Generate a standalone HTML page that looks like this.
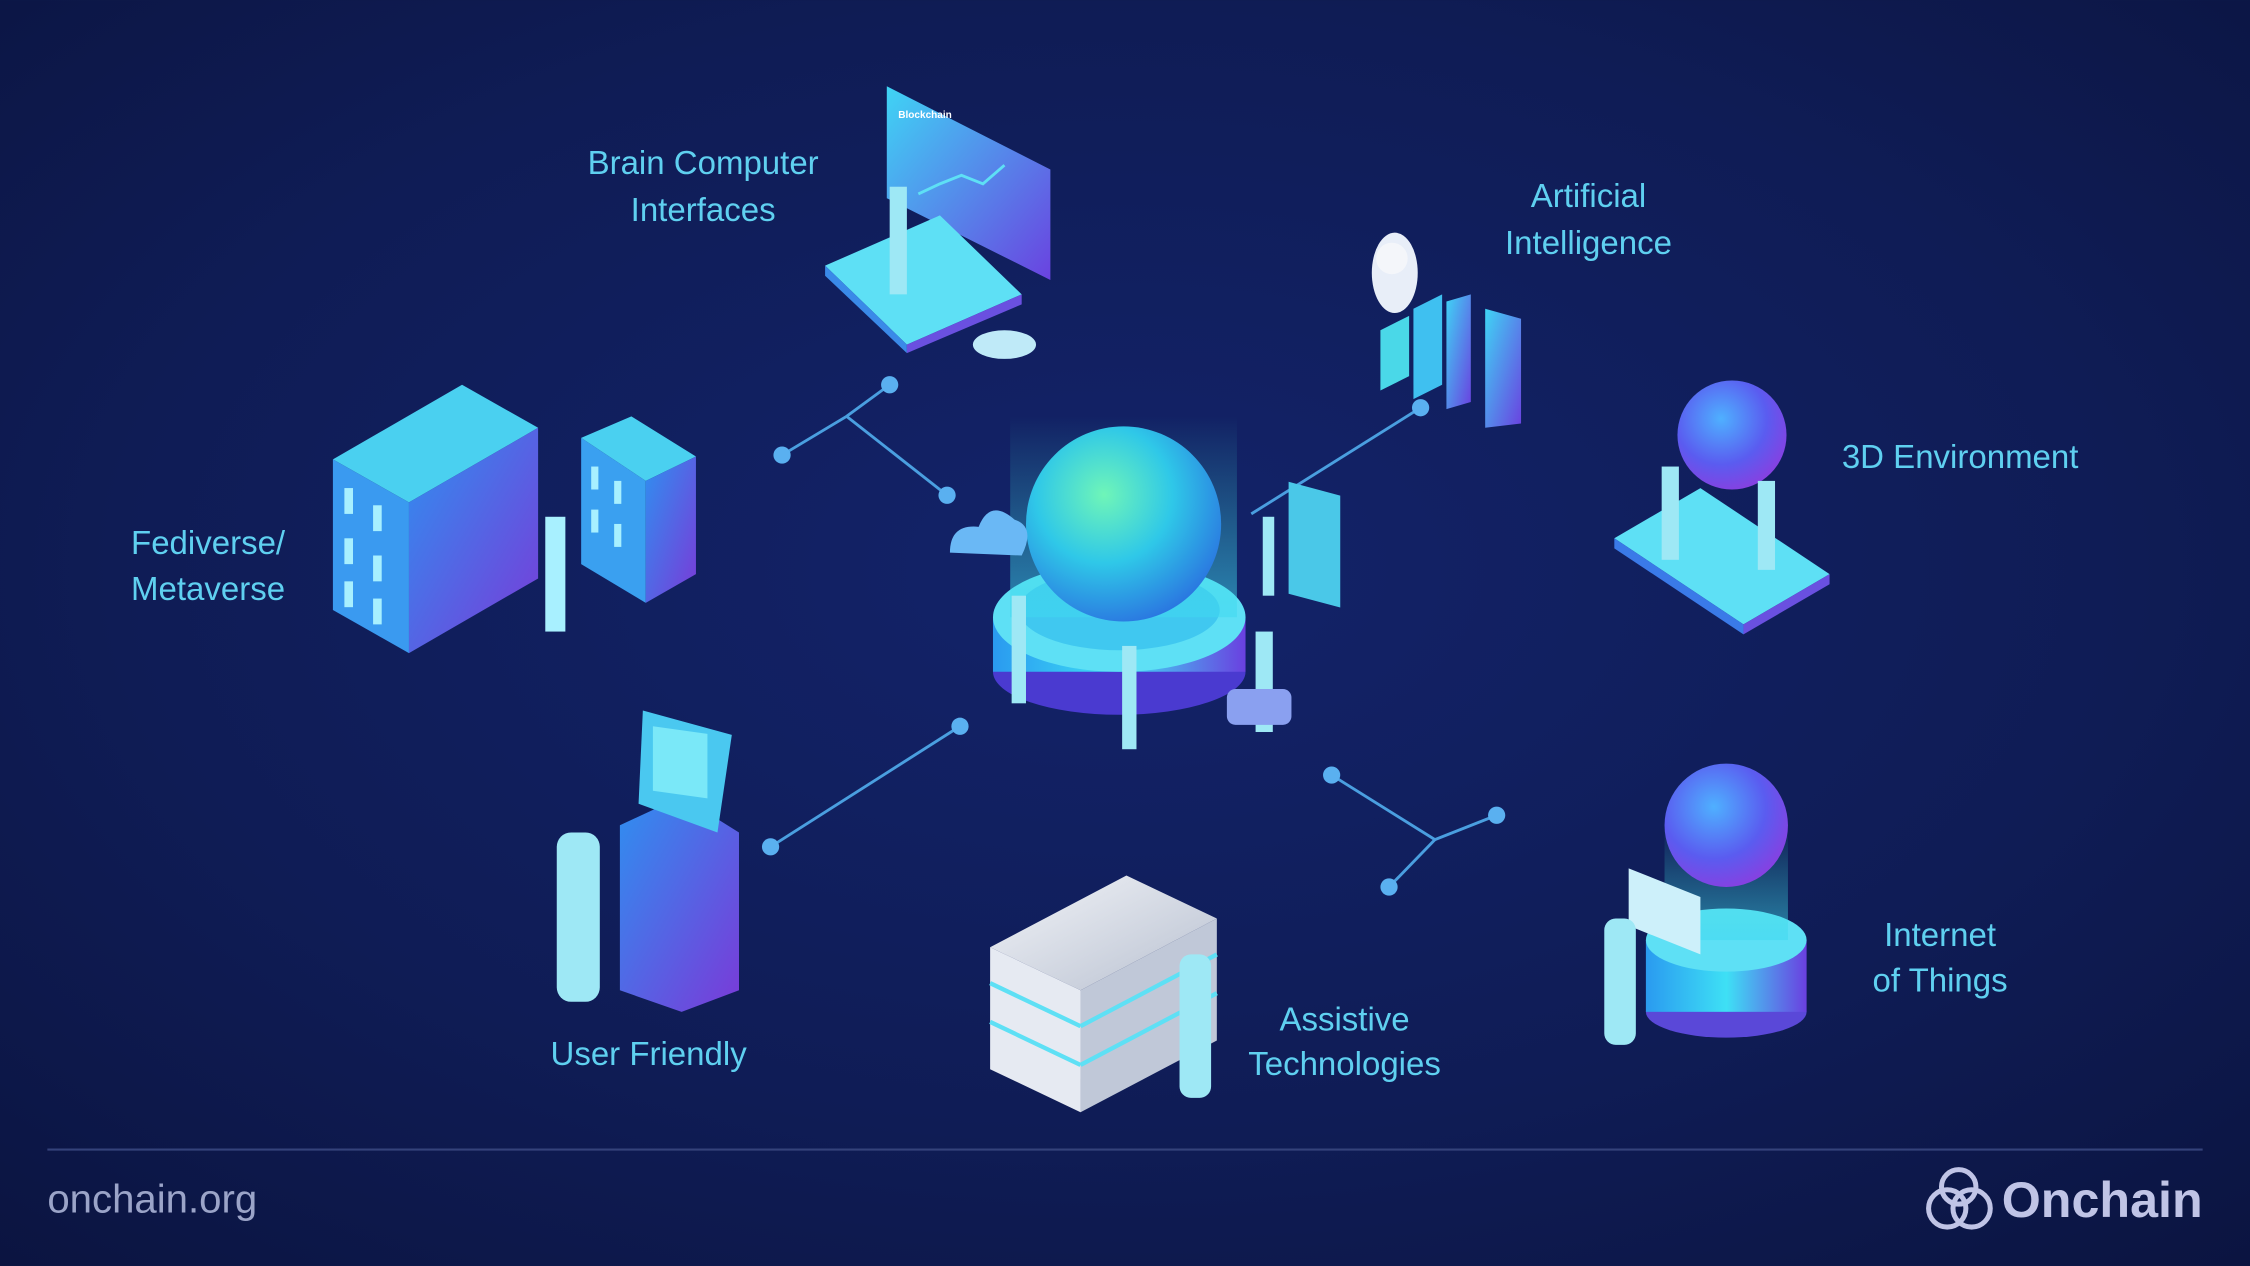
<!DOCTYPE html>
<html><head><meta charset="utf-8"><style>
html,body{margin:0;padding:0;width:2250px;height:1266px;overflow:hidden;background:#0e1a4a}
svg{display:block}
text{font-family:"Liberation Sans",sans-serif}
</style></head><body>
<svg width="2250" height="1266" viewBox="0 0 1568 882" xmlns="http://www.w3.org/2000/svg">
<defs>
<radialGradient id="bg" cx="0.5" cy="0.45" r="0.75">
<stop offset="0" stop-color="#13236a"/><stop offset="0.6" stop-color="#0f1c55"/><stop offset="1" stop-color="#0b1440"/></radialGradient>
<radialGradient id="sph" cx="0.4" cy="0.35" r="0.7">
<stop offset="0" stop-color="#6ff5b8"/><stop offset="0.5" stop-color="#2fc8e8"/><stop offset="1" stop-color="#2a72e0"/></radialGradient>
<radialGradient id="sph2" cx="0.4" cy="0.35" r="0.7">
<stop offset="0" stop-color="#4fb0ff"/><stop offset="0.6" stop-color="#5a5cf0"/><stop offset="1" stop-color="#8a3ee0"/></radialGradient>
<linearGradient id="bld" x1="0" y1="0" x2="1" y2="1">
<stop offset="0" stop-color="#3fd4f5"/><stop offset="1" stop-color="#6a42e0"/></linearGradient>
<linearGradient id="bld2" x1="0" y1="0" x2="1" y2="1">
<stop offset="0" stop-color="#2f8ff0"/><stop offset="1" stop-color="#7a3ad8"/></linearGradient>
<linearGradient id="glow" x1="0" y1="0" x2="0" y2="1">
<stop offset="0" stop-color="#3fe8d0" stop-opacity="0"/><stop offset="1" stop-color="#3fd8f0" stop-opacity="0.55"/></linearGradient>
<linearGradient id="ped" x1="0" y1="0" x2="1" y2="0">
<stop offset="0" stop-color="#2a9af0"/><stop offset="0.5" stop-color="#3ee0f5"/><stop offset="1" stop-color="#6a40e0"/></linearGradient>
<linearGradient id="white" x1="0" y1="0" x2="1" y2="1">
<stop offset="0" stop-color="#f2f4f8"/><stop offset="1" stop-color="#b8c0d0"/></linearGradient>
</defs>
<rect width="1568" height="882" fill="url(#bg)"/>

<g stroke="#4a9fe0" stroke-width="2" fill="none">
<polyline points="620,268 590,290 545,317"/><line x1="590" y1="290" x2="660" y2="345"/>
<line x1="872" y1="358" x2="990" y2="284"/>
<line x1="537" y1="590" x2="669" y2="506"/>
<polyline points="928,540 1000,585 1043,568"/><line x1="1000" y1="585" x2="968" y2="618"/>
</g>
<g fill="#5ab0f0">
<circle cx="620" cy="268" r="6"/><circle cx="545" cy="317" r="6"/><circle cx="660" cy="345" r="6"/>
<circle cx="990" cy="284" r="6"/><circle cx="537" cy="590" r="6"/><circle cx="669" cy="506" r="6"/>
<circle cx="928" cy="540" r="6"/><circle cx="1043" cy="568" r="6"/><circle cx="968" cy="618" r="6"/>
</g>

<ellipse cx="780" cy="468" rx="88" ry="30" fill="#4a3ad0"/>
<rect x="692" y="430" width="176" height="38" fill="url(#ped)"/>
<ellipse cx="780" cy="430" rx="88" ry="38" fill="#5ee0f5"/>
<ellipse cx="780" cy="425" rx="70" ry="28" fill="#40c8f0"/>
<rect x="704" y="290" width="158" height="140" fill="url(#glow)"/>
<circle cx="783" cy="365" r="68" fill="url(#sph)"/>
<path d="M662,385 q0,-20 20,-18 q8,-20 25,-5 q15,5 5,25z" fill="#6ab8f5"/>
<rect x="898" y="335" width="36" height="78" fill="#4ac8e8" transform="skewY(15) translate(0,-240)"/>
<g fill="#9ee8f5"><rect x="880" y="360" width="8" height="55"/><rect x="705" y="415" width="10" height="75"/><rect x="782" y="450" width="10" height="72"/><rect x="875" y="440" width="12" height="70"/></g>
<rect x="855" y="480" width="45" height="25" rx="6" fill="#8aa0f0"/>

<polygon points="618,60 732,118 732,195 618,138" fill="url(#bld)"/>
<polygon points="575,185 655,150 712,205 632,240" fill="#5ee0f5"/>
<polygon points="575,185 632,240 632,246 575,192" fill="#3a8ae8"/>
<polygon points="632,240 712,205 712,212 632,246" fill="#6a50e0"/>
<ellipse cx="700" cy="240" rx="22" ry="10" fill="#bfeaf8"/>
<rect x="620" y="130" width="12" height="75" fill="#9ee8f5"/>
<polyline points="640,135 655,128 670,122 685,128 700,115" stroke="#5ee0f5" stroke-width="2" fill="none"/>
<text x="626" y="82" font-size="7" fill="#fff" font-weight="bold">Blockchain</text>

<g>
<polygon points="962,230 982,220 982,262 962,272" fill="#4ad8e8"/>
<polygon points="985,215 1005,205 1005,268 985,278" fill="#3fc0f0"/>
<polygon points="1008,210 1025,205 1025,280 1008,285" fill="url(#bld)"/>
<polygon points="1035,215 1060,222 1060,295 1035,298" fill="url(#bld)"/>
<ellipse cx="972" cy="190" rx="16" ry="28" fill="#e8eef8"/>
<circle cx="970" cy="180" r="11" fill="#f4f6fa"/>
</g>

<polygon points="1125,375 1185,340 1275,400 1215,435" fill="#5ee0f5"/>
<polygon points="1125,375 1215,435 1215,442 1125,382" fill="#3a7ae8"/>
<polygon points="1215,435 1275,400 1275,407 1215,442" fill="#6a50e0"/>
<circle cx="1207" cy="303" r="38" fill="url(#sph2)"/>
<rect x="1158" y="325" width="12" height="65" fill="#9ee8f5"/>
<rect x="1225" y="335" width="12" height="62" fill="#9ee8f5"/>

<polygon points="232,320 322,268 375,298 285,350" fill="#4ad0f0"/>
<polygon points="232,320 285,350 285,455 232,425" fill="#3a9af0"/>
<polygon points="285,350 375,298 375,403 285,455" fill="url(#bld2)"/>
<polygon points="405,305 440,290 485,318 450,335" fill="#4ad0f0"/>
<polygon points="405,305 450,335 450,420 405,393" fill="#3aa0f0"/>
<polygon points="450,335 485,318 485,400 450,420" fill="url(#bld2)"/>
<g fill="#a8f0ff">
<rect x="240" y="340" width="6" height="18"/><rect x="260" y="352" width="6" height="18"/>
<rect x="240" y="375" width="6" height="18"/><rect x="260" y="387" width="6" height="18"/>
<rect x="240" y="405" width="6" height="18"/><rect x="260" y="417" width="6" height="18"/>
<rect x="412" y="325" width="5" height="16"/><rect x="428" y="335" width="5" height="16"/>
<rect x="412" y="355" width="5" height="16"/><rect x="428" y="365" width="5" height="16"/>
<rect x="380" y="360" width="14" height="80"/>
</g>

<polygon points="432,575 475,555 515,580 515,690 475,705 432,690" fill="url(#bld2)"/>
<polygon points="448,495 510,512 500,580 445,560" fill="#4ac8f0"/>
<rect x="455" y="510" width="38" height="45" fill="#7ae8f8" transform="skewY(8) translate(0,-68)"/>
<rect x="388" y="580" width="30" height="118" rx="10" fill="#9ee8f5"/>

<g>
<polygon points="690,660 785,610 848,640 753,690" fill="url(#white)"/>
<polygon points="690,660 753,690 753,775 690,745" fill="#e6eaf2"/>
<polygon points="753,690 848,640 848,725 753,775" fill="#c0c8d8"/>
<g stroke="#5ee0f5" stroke-width="3"><line x1="690" y1="685" x2="753" y2="715"/><line x1="690" y1="712" x2="753" y2="742"/><line x1="753" y1="715" x2="848" y2="665"/><line x1="753" y1="742" x2="848" y2="692"/></g>
<rect x="822" y="665" width="22" height="100" rx="8" fill="#9ee8f5"/>
</g>

<ellipse cx="1203" cy="705" rx="56" ry="18" fill="#5a48d8"/>
<rect x="1147" y="655" width="112" height="50" fill="url(#ped)"/>
<ellipse cx="1203" cy="655" rx="56" ry="22" fill="#5ee0f5"/>
<rect x="1160" y="575" width="86" height="80" fill="url(#glow)"/>
<circle cx="1203" cy="575" r="43" fill="url(#sph2)"/>
<polygon points="1135,605 1185,625 1185,665 1135,645" fill="#cdf0fa"/>
<rect x="1118" y="640" width="22" height="88" rx="8" fill="#9ee8f5"/>

<g fill="#5fd0f0" font-size="23" text-anchor="middle">
<text x="490" y="121">Brain Computer</text><text x="490" y="154">Interfaces</text>
<text x="1107" y="144">Artificial</text><text x="1107" y="177">Intelligence</text>
<text x="1366" y="326">3D Environment</text>
<text x="145" y="386">Fediverse/</text><text x="145" y="418">Metaverse</text>
<text x="452" y="742">User Friendly</text>
<text x="937" y="718">Assistive</text><text x="937" y="749">Technologies</text>
<text x="1352" y="659">Internet</text><text x="1352" y="691">of Things</text>
</g>

<line x1="33" y1="801" x2="1535" y2="801" stroke="#34427a" stroke-width="1.5"/>
<text x="33" y="845" font-size="28" fill="#9ba4c8">onchain.org</text>
<g fill="none" stroke="#c0c4e6" stroke-width="3.5"><circle cx="1357" cy="842" r="13"/><circle cx="1374" cy="842" r="13"/><circle cx="1365" cy="827" r="12"/></g>
<text x="1535" y="848" font-size="35" font-weight="bold" fill="#c0c4e6" text-anchor="end">Onchain</text>
</svg>
</body></html>
